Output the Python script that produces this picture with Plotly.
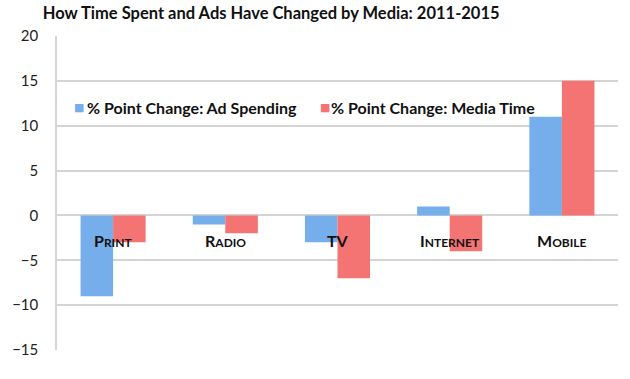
import plotly.graph_objects as go

categories = ["Print", "Radio", "TV", "Internet", "Mobile"]
cat_labels = [
    "P<span style='font-size:12px'>RINT</span>",
    "R<span style='font-size:12px'>ADIO</span>",
    "TV",
    "I<span style='font-size:12px'>NTERNET</span>",
    "M<span style='font-size:12px'>OBILE</span>",
]
series_names = ["% Point Change: Ad Spending", "% Point Change: Media Time"]
ad_spending = [-9, -1, -3, 1, 11]
media_time = [-3, -2, -7, -4, 15]
y_ticks = [-15, -10, -5, 0, 5, 10, 15, 20]
colors = ["#76adeb", "#f47373"]

FONT = "Lato"

fig = go.Figure()
for name, vals, col in zip(series_names, [ad_spending, media_time], colors):
    fig.add_trace(go.Bar(x=categories, y=vals, name=name, showlegend=False,
                         marker=dict(color=col, line=dict(width=0))))

for c, lab in zip(categories, cat_labels):
    fig.add_annotation(x=c, y=-2.75, xref="x", yref="y", text=f"<b>{lab}</b>",
                       showarrow=False, font=dict(family=FONT, size=16, color="#111111"))

# legend built from annotations (square marker + label)
marker_x = [0.026, 0.465]
text_x = [0.050, 0.484]
for name, col, mx, tx in zip(series_names, colors, marker_x, text_x):
    fig.add_annotation(x=mx, y=0.771, xref="paper", yref="paper", xanchor="left",
                       yanchor="middle", showarrow=False, text="■",
                       font=dict(family="DejaVu Sans", size=11, color=col))
    fig.add_annotation(x=tx, y=0.771, xref="paper", yref="paper", xanchor="left",
                       yanchor="middle", showarrow=False, text=f"<b>{name}</b>",
                       font=dict(family=FONT, size=16, color="#111111"))

fig.update_layout(
    width=630, height=379,
    margin=dict(l=46, r=12, t=36, b=29),
    paper_bgcolor="white", plot_bgcolor="white",
    barmode="group", bargap=0.42, bargroupgap=0,
    showlegend=False,
    title=dict(text="<b>How Time Spent and Ads Have Changed by Media: 2011-2015</b>",
               x=0.068, xref="container", xanchor="left", y=0.965, yanchor="middle",
               font=dict(family=FONT, size=16.5, color="#111111")),
    xaxis=dict(showticklabels=False, showgrid=False, zeroline=False,
               showline=False, ticks=""),
    yaxis=dict(range=[-15, 20], tickvals=y_ticks, showgrid=True, gridcolor="#d4d4d4",
               gridwidth=1.5, zeroline=True, zerolinecolor="#d4d4d4", zerolinewidth=1.5,
               showline=True, linecolor="#d4d4d4", linewidth=1.5,
               tickfont=dict(family=FONT, size=15, color="#222222"), ticks="",
               ticklabelstandoff=14),
)

fig.write_html("out.html", config={"displayModeBar": False},
               post_script="document.body.style.margin='0';document.body.style.padding='0';")
